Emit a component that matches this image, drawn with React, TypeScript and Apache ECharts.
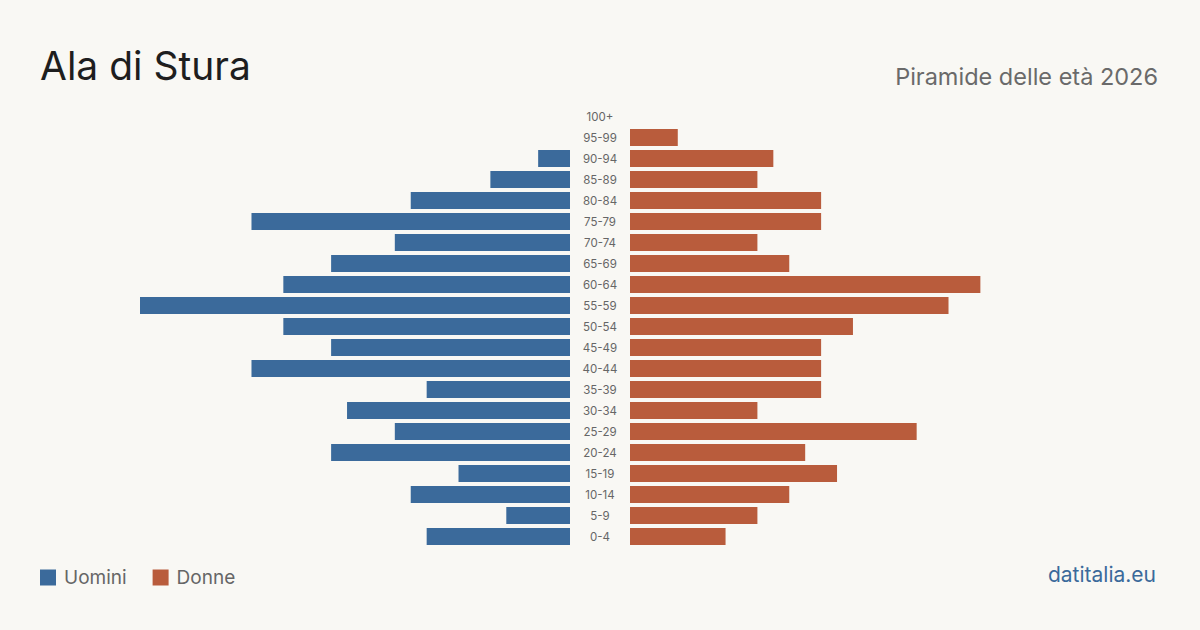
import React, { useEffect, useRef } from "react";
import * as echarts from "echarts";

// Age classes, youngest first (bottom of the pyramid)
const ageClasses = [
  "0-4", "5-9", "10-14", "15-19", "20-24", "25-29", "30-34", "35-39",
  "40-44", "45-49", "50-54", "55-59", "60-64", "65-69", "70-74", "75-79",
  "80-84", "85-89", "90-94", "95-99", "100+",
];
const men = [9, 4, 10, 7, 15, 11, 14, 9, 20, 15, 18, 27, 18, 15, 11, 20, 10, 5, 2, 0, 0];
const women = [6, 8, 10, 13, 11, 18, 8, 12, 12, 12, 14, 20, 22, 10, 8, 12, 12, 8, 9, 3, 0];

const BLUE = "#3b6a9b";
const RED = "#b95c3c";
const FONT = "Inter, 'Noto Sans', sans-serif";

export default function App() {
  const ref = useRef<HTMLDivElement>(null);

  useEffect(() => {
    if (!ref.current) return;
    const chart = echarts.init(ref.current, undefined, { renderer: "svg" });
    const maxVal = Math.max(...men, ...women);
    chart.setOption({
      animation: false,
      backgroundColor: "#f9f8f4",
      textStyle: { fontFamily: FONT },
      legend: {
        left: 40,
        top: 568,
        padding: 0,
        itemWidth: 16,
        itemHeight: 16,
        itemGap: 26,
        icon: "rect",
        textStyle: { fontSize: 19, color: "#666", fontFamily: FONT, padding: [0, 0, 0, 3] },
        data: ["Uomini", "Donne"],
      },
      graphic: [
        {
          type: "text",
          left: 40,
          top: 46,
          style: { text: "Ala di Stura", fontSize: 39, fill: "#1e1e1e", fontFamily: FONT },
        },
        {
          type: "text",
          right: 42,
          top: 64,
          style: { text: "Piramide delle età 2026", fontSize: 23.5, fill: "#6a6a6a", fontFamily: FONT },
        },
        {
          type: "text",
          right: 44,
          top: 564,
          style: { text: "datitalia.eu", fontSize: 21, fill: BLUE, fontFamily: FONT },
        },
      ],
      grid: [
        { left: 140, width: 430, top: 106, height: 441 },
        { left: 630, width: 430, top: 106, height: 441 },
      ],
      xAxis: [
        {
          gridIndex: 0, type: "value", inverse: true, min: 0, max: maxVal,
          show: false, splitLine: { show: false },
        },
        {
          gridIndex: 1, type: "value", min: 0, max: maxVal,
          show: false, splitLine: { show: false },
        },
      ],
      yAxis: [
        {
          gridIndex: 0, type: "category", data: ageClasses, position: "right",
          axisLine: { show: false }, axisTick: { show: false },
          axisLabel: { align: "center", margin: 30, fontSize: 11.5, color: "#666", fontFamily: FONT },
        },
        {
          gridIndex: 1, type: "category", data: ageClasses,
          axisLine: { show: false }, axisTick: { show: false }, axisLabel: { show: false },
        },
      ],
      series: [
        {
          name: "Uomini", type: "bar", xAxisIndex: 0, yAxisIndex: 0,
          data: men, barWidth: 17, itemStyle: { color: BLUE },
        },
        {
          name: "Donne", type: "bar", xAxisIndex: 1, yAxisIndex: 1,
          data: women, barWidth: 17, itemStyle: { color: RED },
        },
      ],
    });
    return () => chart.dispose();
  }, []);

  return (
    <div
      ref={ref}
      style={{ width: 1200, height: 630, position: "fixed", left: 0, top: 0 }}
    />
  );
}
